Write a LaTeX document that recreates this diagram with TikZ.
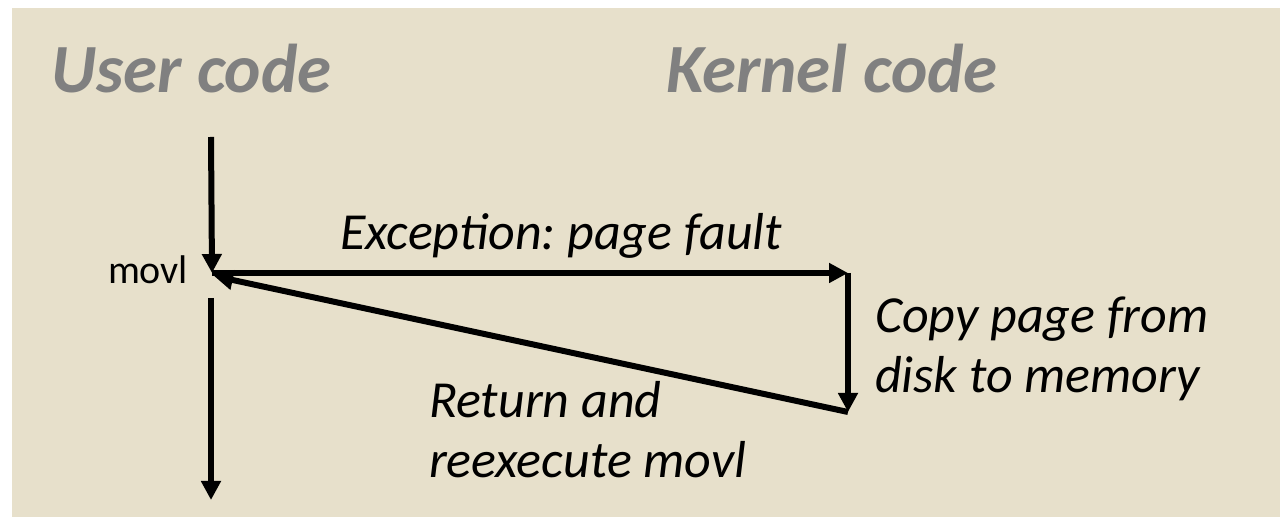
\documentclass[tikz,border=0pt]{standalone}
\usepackage{fontspec}
\setmainfont{Carlito}
\usetikzlibrary{arrows.meta,positioning}
\definecolor{slidebg}{RGB}{231,224,203}
\definecolor{titlegray}{RGB}{128,128,128}
\frenchspacing

\begin{document}
\begin{tikzpicture}[x=0.5pt,y=-0.5pt,>={Triangle[length=9.5pt,width=9.5pt]},line width=3pt,
  heading/.style={font=\fontsize{34.5}{41}\selectfont\bfseries\itshape,text=titlegray,inner sep=0pt,anchor=base west},
  note/.style={font=\fontsize{26}{30}\selectfont\itshape,inner sep=0pt,anchor=base west,align=left},
  instr/.style={font=\fontsize{20}{24}\selectfont,inner sep=0pt,anchor=base west}]
  \useasboundingbox (0,0) rectangle (1280,517);
  \fill[slidebg] (12,8) rectangle (1280,517);

  \node[heading] (user)   at (48,93)  {User code};
  \node[heading] (kernel) at (663,93) {Kernel code};
  \node[instr]   (movl)   at (105,284) {movl};

  \coordinate (utop)    at (211,137);
  \coordinate (fault)   at (212,273);
  \coordinate (handler) at (848,273);
  \coordinate (copied)  at (848,412);
  \coordinate (back)    at (214,276);
  \coordinate (resume)  at (211,298);
  \coordinate (uend)    at (211,500);

  \draw[->] (utop) -- (fault);
  \draw[->] (fault) -- (handler);
  \draw[->] (handler) -- (copied);
  \draw[->] (copied) -- (back);
  \draw[->] (resume) -- (uend);

  % two-line notes: base is the last line
  \node[note] (exc)  at (337,250) {Exception: page fault};
  \node[note] (copy) at (872,393) {Copy page from\\disk to memory};
  \node[note] (ret)  at (426,478) {Return and\\reexecute movl};
\end{tikzpicture}
\end{document}
